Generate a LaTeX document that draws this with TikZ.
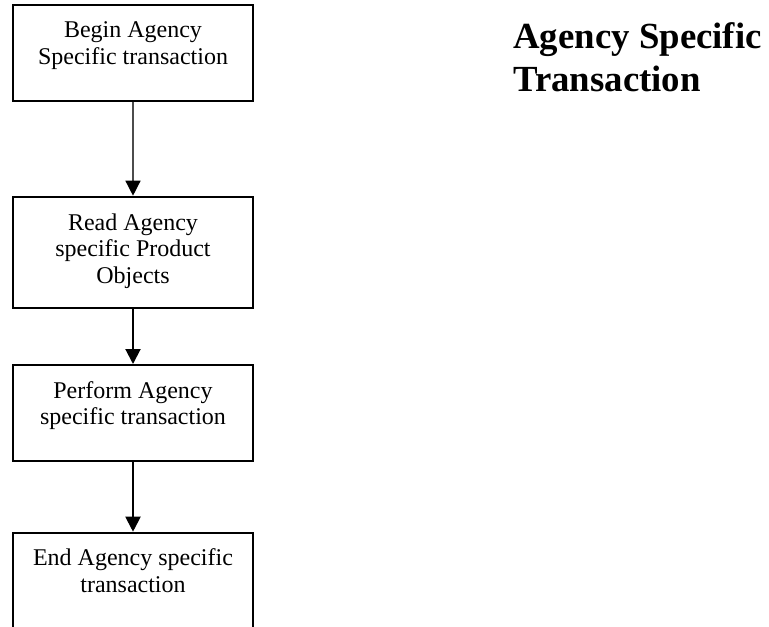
\documentclass[tikz,border=0pt]{standalone}
\usepackage{fontspec}
\setmainfont{Liberation Serif}
\usetikzlibrary{arrows.meta}
\tikzset{
  stepbox/.style={draw=black, line width=1pt, inner sep=0pt,
    minimum width=120.3pt},
  boxtext/.style={anchor=base, inner sep=0pt,
    font=\fontsize{12}{13.3}\selectfont},
  flow/.style={line width=1pt, draw=black,
    -{Triangle[length=7.5pt,width=7.5pt,color=black]}},
  thinflow/.style={flow, line width=0.7pt, draw=black!70},
}
\newcommand{\boxlines}[1]{\begin{tabular}[t]{@{}c@{}}#1\end{tabular}}
\begin{document}
\begin{tikzpicture}[x=0.5pt, y=-0.5pt]
  \useasboundingbox (0,0) rectangle (769,626);
  \clip (0,0) rectangle (769,626);

  % process boxes (positions in pixel units)
  \node[stepbox, minimum height=47.85pt] (b1) at (133,52.85) {};
  \node[stepbox, minimum height=55.8pt]  (b2) at (133,252.5) {};
  \node[stepbox, minimum height=48pt]    (b3) at (133,413) {};
  \node[stepbox, minimum height=60pt]    (b4) at (133,592.7) {};

  % box labels, set from the top edge of each box
  \node[boxtext] (t1) at (133,37.7)  {\boxlines{Begin Agency\\Specific transaction}};
  \node[boxtext] (t2) at (133,230)   {\boxlines{Read Agency\\specific Product\\Objects}};
  \node[boxtext] (t3) at (133,398.3) {\boxlines{Perform Agency\\specific transaction}};
  \node[boxtext] (t4) at (133,565.5) {\boxlines{End Agency specific\\transaction}};

  % connectors
  \draw[thinflow] (b1.south) -- (b2.north);
  \draw[flow] (b2.south) -- (b3.north);
  \draw[flow] (b3.south) -- (b4.north);

  % heading
  \node[anchor=base west, inner sep=0pt,
        font=\fontsize{18.4}{21}\selectfont\bfseries] (title) at (513,49)
        {\begin{tabular}[t]{@{}l@{}}Agency Specific\\Transaction\end{tabular}};
\end{tikzpicture}
\end{document}
